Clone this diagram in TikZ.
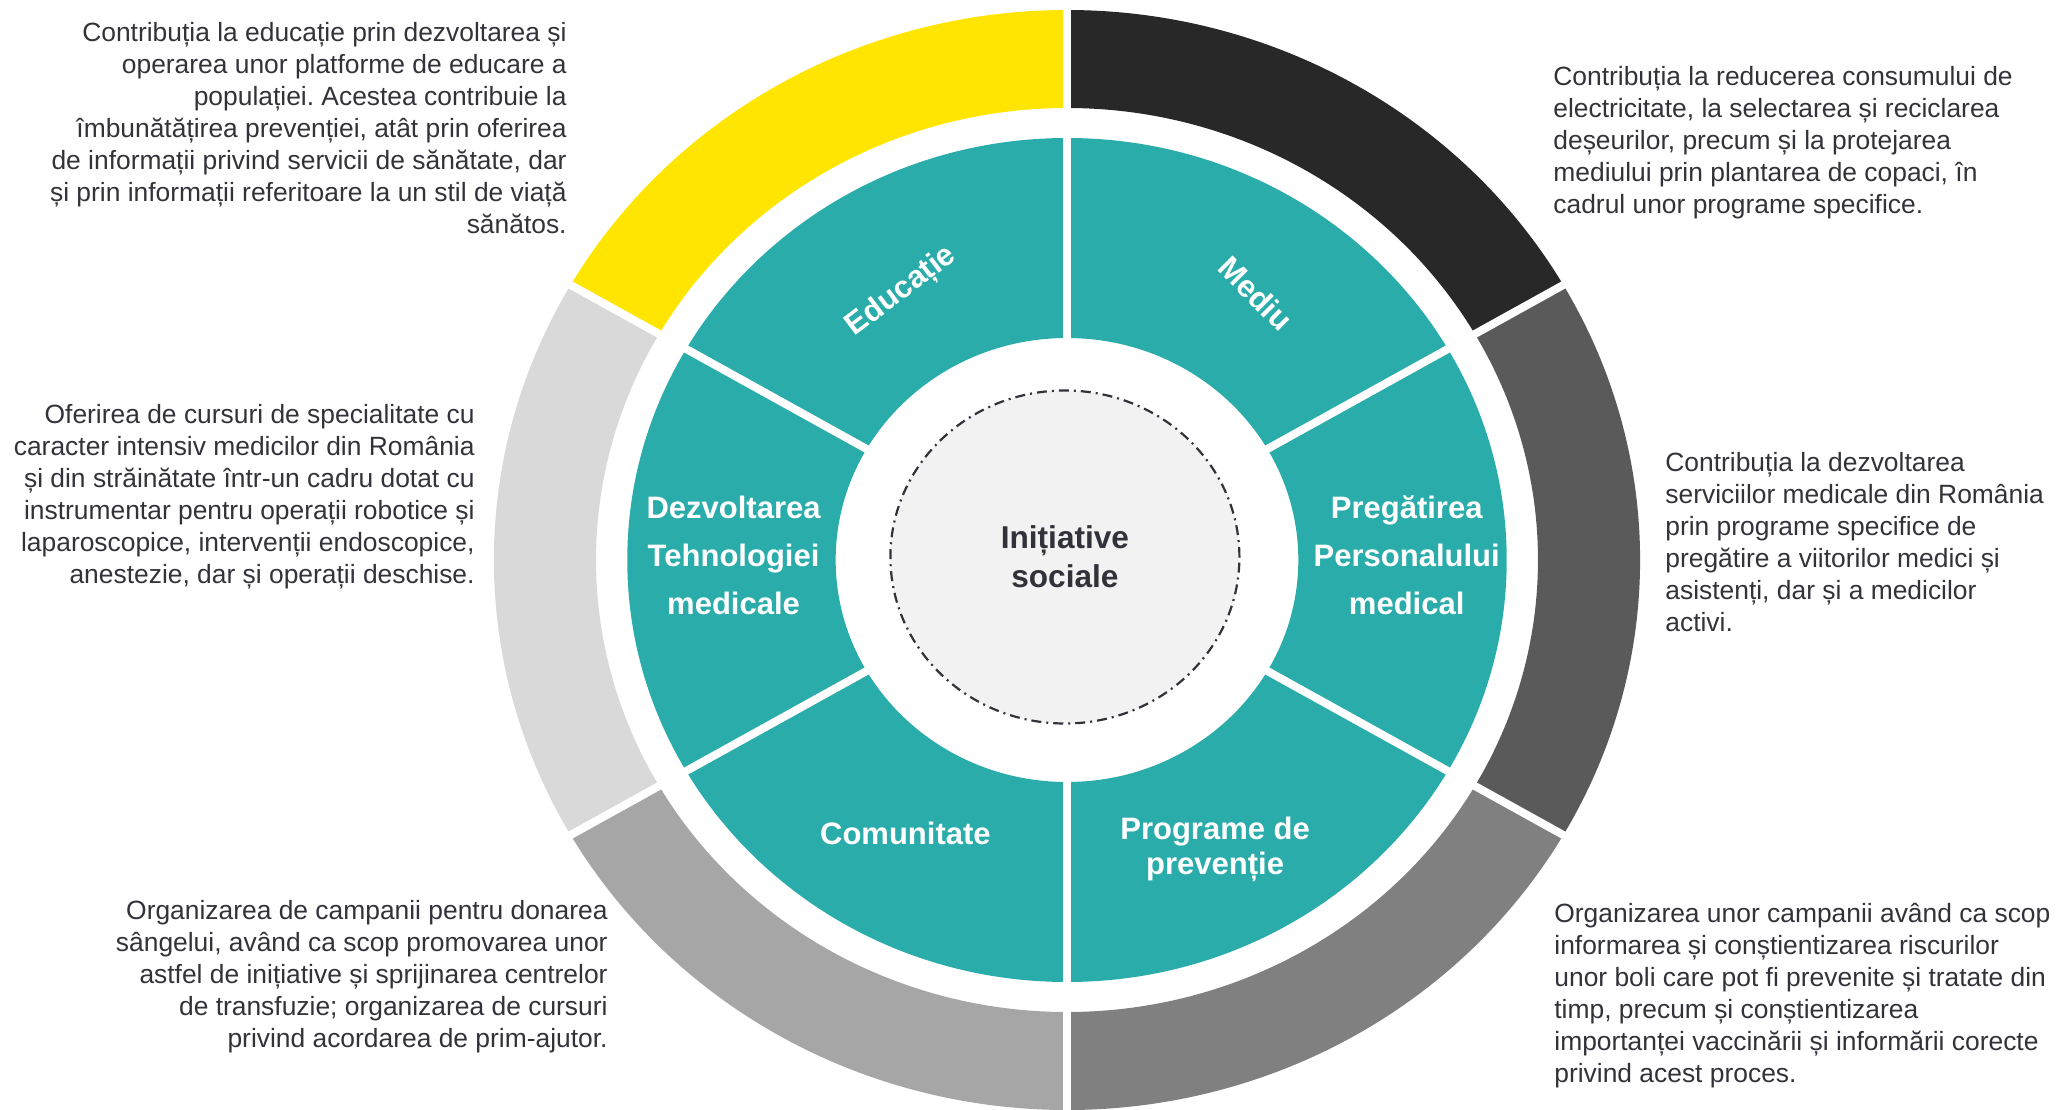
\documentclass[tikz,border=0pt]{standalone}
\usepackage{fontspec}
\setmainfont{Liberation Sans}
\frenchspacing
\usetikzlibrary{shapes.geometric, positioning}
\definecolor{galben}{HTML}{FFE500}
\definecolor{negru}{HTML}{282828}
\definecolor{grifonce}{HTML}{5A5A5A}
\definecolor{grimediu}{HTML}{808080}
\definecolor{grideschis}{HTML}{A6A6A6}
\definecolor{gripal}{HTML}{D9D9D9}
\definecolor{turcoaz}{HTML}{2AADAA}
\definecolor{fundalcentru}{HTML}{F2F2F2}
\definecolor{textinchis}{HTML}{32323A}
\tikzset{
  eticheta/.style={text=white, font=\fontsize{15.5}{24}\selectfont\bfseries, align=center, inner sep=0pt},
  descriere/.style={text=textinchis, font=\fontsize{13.2}{16}\selectfont, inner sep=0pt},
  separator/.style={white, line width=4pt},
  miez/.style={ellipse, draw=textinchis, line width=1.1pt, dash pattern=on 5pt off 2.5pt on 1pt off 2.5pt, fill=fundalcentru, minimum width=174.5pt, minimum height=166.5pt, text=textinchis, font=\fontsize{15.8}{19.5}\selectfont\bfseries, align=center}
}

\begin{document}
\begin{tikzpicture}[x=0.5pt, y=0.5pt]
    \useasboundingbox (-1067,-549) rectangle (989,560);

    \begin{scope}[xscale=1.042]
    % Inel exterior
    \foreach \a/\b/\c in {30/90/negru, 90/150/galben, 150/210/gripal, 210/270/grideschis, 270/330/grimediu, 330/390/grifonce}
      \fill[\c] (\a:452) arc[start angle=\a, end angle=\b, radius=452] -- (\b:550) arc[start angle=\b, end angle=\a, radius=550] -- cycle;

    % Inel interior
    \fill[turcoaz, even odd rule] (0,0) circle (422) (0,0) circle (222);

    % Separatoare
    \foreach \a in {30,90,...,330}
      \draw[separator] (\a:215) -- (\a:560);

    \node (centru) [miez] at (-2,3) {Inițiative\\sociale};

    \node (educatie) [eticheta, rotate=37] at (120.6:312) {Educație};
    \node (mediu) [eticheta, rotate=-45] at (55.8:322) {Mediu};
    \node (tehnologie) [eticheta] at (-320,5) {Dezvoltarea\\Tehnologiei\\medicale};
    \node (personal) [eticheta] at (326,5) {Pregătirea\\Personalului\\medical};
    \node (comunitate) [eticheta] at (240.4:314) {Comunitate};
    \node (preventie) [eticheta, font=\fontsize{15.5}{17.5}\selectfont\bfseries] at (296.2:322) {Programe de\\prevenție};
    \end{scope}

    % Descrieri
    \node (txtedu) [descriere, align=right, anchor=east] at (-500,432)
    {Contribuția la educație prin dezvoltarea și\\operarea unor platforme de educare a\\populației. Acestea contribuie la\\îmbunătățirea prevenției, atât prin oferirea\\de informații privind servicii de sănătate, dar\\și prin informații referitoare la un stil de viață\\sănătos.};

    \node (txtmediu) [descriere, align=left, anchor=west] at (486,417)
    {Contribuția la reducerea consumului de\\electricitate, la selectarea și reciclarea\\deșeurilor, precum și la protejarea\\mediului prin plantarea de copaci, în\\cadrul unor programe specifice.};

    \node (txttehno) [descriere, align=right, anchor=east] at (-592,63)
    {Oferirea de cursuri de specialitate cu\\caracter intensiv medicilor din România\\și din străinătate într-un cadru dotat cu\\instrumentar pentru operații robotice și\\laparoscopice, intervenții endoscopice,\\anestezie, dar și operații deschise.};

    \node (txtpers) [descriere, align=left, anchor=west] at (598,18)
    {Contribuția la dezvoltarea\\serviciilor medicale din România\\prin programe specifice de\\pregătire a viitorilor medici și\\asistenți, dar și a medicilor\\activi.};

    \node (txtcom) [descriere, align=right, anchor=east] at (-459,-417)
    {Organizarea de campanii pentru donarea\\sângelui, având ca scop promovarea unor\\astfel de inițiative și sprijinarea centrelor\\de transfuzie; organizarea de cursuri\\privind acordarea de prim-ajutor.};

    \node (txtprev) [descriere, align=left, anchor=west] at (487,-436)
    {Organizarea unor campanii având ca scop\\informarea și conștientizarea riscurilor\\unor boli care pot fi prevenite și tratate din\\timp, precum și conștientizarea\\importanței vaccinării și informării corecte\\privind acest proces.};

\end{tikzpicture}
\end{document}
